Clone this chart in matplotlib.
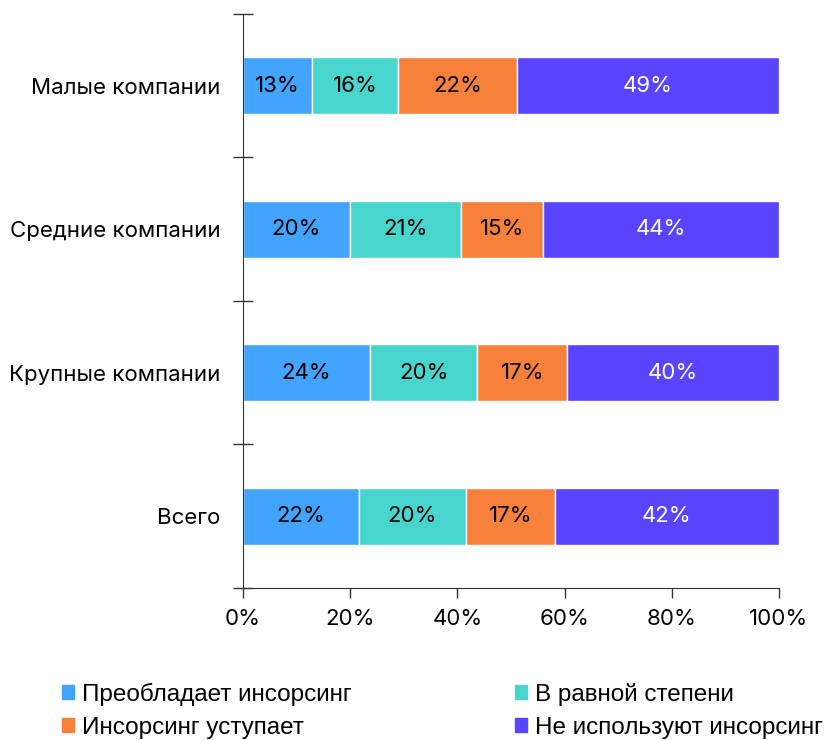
import matplotlib.pyplot as plt
from matplotlib.patches import Patch
from matplotlib.ticker import FixedLocator

plt.rcParams['font.family'] = ['Inter', 'DejaVu Sans']

categories = ['Малые компании', 'Средние компании', 'Крупные компании', 'Всего']
series = ['Преобладает инсорсинг', 'В равной степени', 'Инсорсинг уступает', 'Не используют инсорсинг']
values = [
    [12.9, 20.0, 23.7, 21.6],   # Преобладает инсорсинг
    [16.0, 20.7, 20.0, 20.0],   # В равной степени
    [22.2, 15.3, 16.8, 16.6],   # Инсорсинг уступает
    [48.9, 44.0, 39.5, 41.8],   # Не используют инсорсинг
]
colors = ['#42A4FF', '#48D5CE', '#F7813A', '#5944FF']
text_colors = ['black', 'black', 'black', 'white']

fig = plt.figure(figsize=(8.26, 7.4), dpi=100)
ax = fig.add_axes([0.2942, 0.2054, 0.6489, 0.7757])

y = list(range(len(categories)))
left = [0.0] * len(categories)
for vals, c, tc in zip(values, colors, text_colors):
    bars = ax.barh(y, vals, left=left, height=0.4, color=c, edgecolor='white', linewidth=1)
    for b, v in zip(bars, vals):
        ax.text(b.get_x() + b.get_width() / 2, b.get_y() + b.get_height() / 2,
                f'{round(v):d}%', ha='center', va='center', color=tc, fontsize=16)
    left = [l + v for l, v in zip(left, vals)]

ax.set_xlim(0, 100)
ax.set_ylim(len(categories) - 0.5, -0.5)
ax.set_xticks([0, 20, 40, 60, 80, 100])
ax.set_xticklabels([f'{t}%' for t in [0, 20, 40, 60, 80, 100]], fontsize=16)
ax.set_yticks(y)
ax.set_yticklabels(categories, fontsize=16)
ax.tick_params(axis='y', which='major', length=0, pad=16)
ax.yaxis.set_minor_locator(FixedLocator([i - 0.5 for i in range(len(categories) + 1)]))
ax.tick_params(axis='y', which='minor', length=14, direction='inout', width=1, color='#333333')
ax.tick_params(axis='x', length=7, direction='out', width=1, color='#333333', pad=8)

for s in ['top', 'right']:
    ax.spines[s].set_visible(False)
ax.spines['left'].set_color('#333333')
ax.spines['bottom'].set_color('#333333')
ax.spines['bottom'].set_bounds(-1.3, 100)
ax.spines['bottom'].set_clip_on(False)

handles = [Patch(color=c) for c in colors]
order = [0, 2, 1, 3]
fig.legend([handles[i] for i in order], [series[i] for i in order],
           loc='lower left', bbox_to_anchor=(0.075, 0.002), ncol=2, frameon=False,
           borderpad=0, borderaxespad=0,
           handlelength=0.5, handleheight=0.5, handletextpad=0.33,
           columnspacing=6.7, labelspacing=0.45,
           prop={'family': ['Liberation Sans', 'DejaVu Sans'], 'size': 17.5})

fig.savefig('out.png', dpi=100)
